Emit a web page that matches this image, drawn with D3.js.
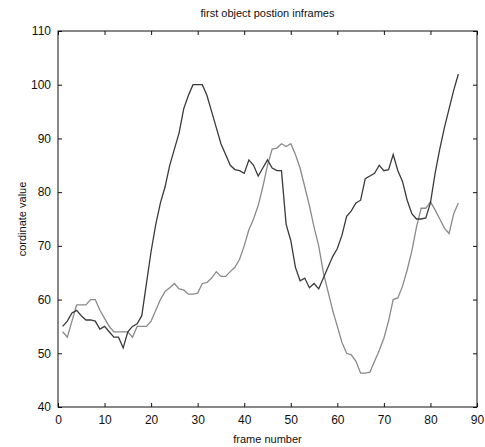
<!DOCTYPE html>
<html>
<head>
<meta charset="utf-8">
<script src="https://cdn.jsdelivr.net/npm/d3@7"></script>
<style>
  body { margin: 0; background: #fff; }
  svg { display: block; font-family: "Liberation Sans", Arial, sans-serif; }
</style>
</head>
<body>
<svg id="chart" width="485" height="447"></svg>
<script>
// frame numbers 1..86
const frames = d3.range(1, 87);

// dark series
const darkValues = [
  55, 56, 57.5, 58, 57, 56.2, 56.2, 56, 54.5, 55,
  54, 53, 53, 51, 54, 55, 55.5, 57, 63, 69,
  74, 78, 81, 85, 88, 91, 95.5, 98, 100, 100,
  100, 98, 95, 92, 89, 87, 85, 84.2, 84, 83.5,
  86, 85, 83, 84.5, 86, 84.5, 84, 84, 74, 71,
  66, 63.5, 64, 62.2, 63, 62, 64, 66, 68, 69.5,
  72, 75.5, 76.5, 78, 78.5, 82.5, 83, 83.5, 85, 84,
  84.2, 87, 84, 82, 78.5, 76, 75, 75, 75.2, 78,
  83.5, 88, 92, 95.5, 99, 102
];

// light series
const lightValues = [
  54, 53, 56, 59, 59, 59, 60, 60, 58, 56.5,
  55, 54, 54, 54, 54, 53, 55, 55, 55, 56,
  58, 60, 61.5, 62.2, 63, 62, 61.8, 61, 61, 61.2,
  63, 63.2, 64, 65.2, 64.3, 64.3, 65.2, 66, 67.5, 70,
  73, 75, 77.5, 81, 85, 88, 88.2, 89, 88.5, 89,
  87, 84.5, 81, 77.5, 73.5, 70, 65, 61.5, 58, 55,
  52, 50, 49.7, 48.5, 46.3, 46.3, 46.5, 48.5, 50.5, 52.8,
  56, 60, 60.3, 62.5, 65.5, 69, 73.5, 77, 77, 78.2,
  76.7, 75, 73.3, 72.3, 76, 78
];

const xTicks = d3.range(0, 91, 10);
const yTicks = d3.range(40, 111, 10);

const width = 485, height = 447;
const margin = { top: 31, right: 8, bottom: 40, left: 58 };

const svg = d3.select('#chart');

const xScale = d3.scaleLinear([0, 90], [margin.left, width - margin.right]);
const yScale = d3.scaleLinear([40, 110], [height - margin.bottom, margin.top]);

const tickLen = 4;

// inward ticks on all four sides, like matlab
const axisGroup = svg.append('g').attr('class', 'axis-group');

axisGroup.append('g')
  .attr('transform', `translate(0, ${yScale(40)})`)
  .call(d3.axisBottom(xScale).tickValues(xTicks).tickSize(-tickLen).tickSizeOuter(0).tickPadding(8))
  .call(g => g.select('.domain').remove());

axisGroup.append('g')
  .attr('transform', `translate(0, ${yScale(110)})`)
  .call(d3.axisTop(xScale).tickValues(xTicks).tickSize(-tickLen).tickFormat(''))
  .call(g => g.select('.domain').remove());

axisGroup.append('g')
  .attr('transform', `translate(${xScale(0)}, 0)`)
  .call(d3.axisLeft(yScale).tickValues(yTicks).tickSize(-tickLen).tickPadding(7))
  .call(g => g.select('.domain').remove());

axisGroup.append('g')
  .attr('transform', `translate(${xScale(90)}, 0)`)
  .call(d3.axisRight(yScale).tickValues(yTicks).tickSize(-tickLen).tickFormat(''))
  .call(g => g.select('.domain').remove());

axisGroup.selectAll('.tick text')
  .attr('font-size', 12)
  .attr('fill', '#111');
axisGroup.selectAll('.tick line')
  .attr('stroke', '#111');

// frame
axisGroup.append('rect')
  .attr('x', xScale(0))
  .attr('y', yScale(110))
  .attr('width', xScale(90) - xScale(0))
  .attr('height', yScale(40) - yScale(110))
  .attr('fill', 'none')
  .attr('stroke', '#111')
  .attr('stroke-width', 1);

// lines
const line = d3.line()
  .x((d, i) => xScale(frames[i]))
  .y(d => yScale(d));

const lineGroup = svg.append('g').attr('class', 'line-group');
lineGroup.append('path')
  .attr('d', line(lightValues))
  .attr('fill', 'none')
  .attr('stroke', '#8a8a8a')
  .attr('stroke-width', 1.3);
lineGroup.append('path')
  .attr('d', line(darkValues))
  .attr('fill', 'none')
  .attr('stroke', '#3a3a3a')
  .attr('stroke-width', 1.3);

// titles
const midX = (xScale(0) + xScale(90)) / 2;
svg.append('text')
  .attr('x', midX)
  .attr('y', 17)
  .attr('text-anchor', 'middle')
  .attr('font-size', 11)
  .attr('fill', '#111')
  .text('first object postion inframes');

svg.append('text')
  .attr('x', midX)
  .attr('y', 443)
  .attr('text-anchor', 'middle')
  .attr('font-size', 11)
  .attr('fill', '#111')
  .text('frame number');

svg.append('text')
  .attr('transform', `translate(26, ${(yScale(40) + yScale(110)) / 2}) rotate(-90)`)
  .attr('text-anchor', 'middle')
  .attr('font-size', 11)
  .attr('fill', '#111')
  .text('cordinate value');
</script>
</body>
</html>
